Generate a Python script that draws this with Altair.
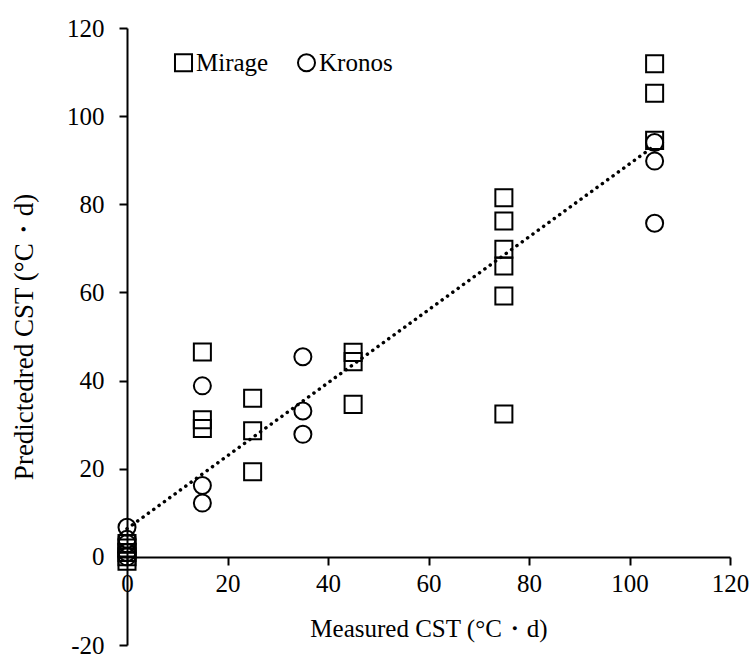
import altair as alt
import pandas as pd

mirage_x = [0, 0, 0, 0, 0, 15, 15, 15, 25, 25, 25, 45, 45, 45,
            75, 75, 75, 75, 75, 75, 105, 105, 105]
mirage_y = [3, 2, 1, 0, -1, 46.5, 31.1, 29.1, 36, 28.6, 19.3, 46.4, 44.3, 34.6,
            81.5, 76.2, 69.8, 66, 59.2, 32.4, 111.9, 105.2, 94.5]
kronos_x = [0, 0, 0, 0, 0, 15, 15, 15, 35, 35, 35, 105, 105, 105]
kronos_y = [6.7, 4, 3, 1, 0, 38.8, 16.2, 12.2, 45.4, 33.1, 27.8, 94, 89.8, 75.7]

series_names = ["Mirage", "Kronos"]
x_ticks = [0, 20, 40, 60, 80, 100, 120]
y_ticks = [-20, 0, 20, 40, 60, 80, 100, 120]

df = pd.DataFrame({
    "series": [series_names[0]] * len(mirage_x) + [series_names[1]] * len(kronos_x),
    "x": mirage_x + kronos_x,
    "y": mirage_y + kronos_y,
})

FONT = "Liberation Serif"

xscale = alt.Scale(domain=[0, 120], nice=False, zero=False)
yscale = alt.Scale(domain=[-20, 120], nice=False, zero=False)

xaxis = alt.Axis(values=x_ticks, grid=False, offset=-88, domainColor="black",
                 domainWidth=2, tickColor="black", tickWidth=2, tickSize=8,
                 labelFont=FONT, labelFontSize=25, labelColor="black", labelPadding=6,
                 labelExpr="'' + datum.value", labelFlush=False, labelOverlap=False,
                 title="Measured CST (\u00b0C\u30fbd)", titleFont=FONT, titleFontSize=25,
                 titleFontWeight="normal", titleColor="black", titlePadding=20)
yaxis = alt.Axis(values=y_ticks, grid=False, domainColor="black",
                 domainWidth=2, tickColor="black", tickWidth=2, tickSize=8,
                 labelFont=FONT, labelFontSize=25, labelColor="black", labelPadding=15,
                 labelExpr="'' + datum.value", labelFlush=False, labelOverlap=False,
                 title="Predictedred CST (\u00b0C\u30fbd)", titleFont=FONT, titleFontSize=27,
                 titleFontWeight="normal", titleColor="black", titlePadding=28)

points = alt.Chart(df).mark_point(filled=False, strokeWidth=2, size=290, color="black", opacity=1).encode(
    x=alt.X("x:Q", scale=xscale, axis=xaxis),
    y=alt.Y("y:Q", scale=yscale, axis=yaxis),
    shape=alt.Shape("series:N", scale=alt.Scale(domain=series_names, range=["square", "circle"]),
                    legend=alt.Legend(title=None, orient="none", legendX=44, legendY=22,
                                      direction="horizontal", labelFont=FONT, labelFontSize=25,
                                      labelColor="black", symbolSize=290, symbolStrokeWidth=2,
                                      symbolStrokeColor="black", symbolFillColor="white",
                                      columnPadding=24, labelOffset=0, padding=0)),
)

trend = alt.Chart(df).transform_regression("x", "y", extent=[0, 105]).mark_line(
    color="black", strokeWidth=3.5, strokeDash=[0.1, 6.5], strokeCap="round"
).encode(
    x=alt.X("x:Q", scale=xscale),
    y=alt.Y("y:Q", scale=yscale),
)

chart = alt.layer(trend, points).properties(
    width=603, height=617,
    padding={"left": 127, "top": 28, "right": 23, "bottom": 14},
    autosize=alt.AutoSizeParams(type="none"),
    background="white",
).configure_view(stroke=None)

chart.save("out.html", embed_options={"renderer": "svg", "actions": False})
